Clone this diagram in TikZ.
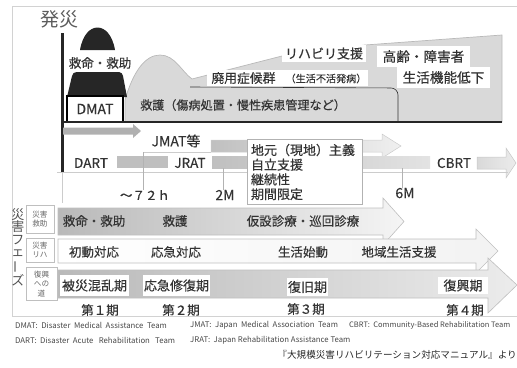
\documentclass[tikz,border=0pt]{standalone}
\usepackage{fontspec}
\setmainfont{Noto Sans CJK JP}[FakeBold=0.35,AutoFakeBold=0.35]
\newfontfamily\notefont{Noto Sans CJK JP}
\usepackage{graphicx}
\usetikzlibrary{positioning}
\definecolor{ink}{HTML}{333333}
\definecolor{hill}{HTML}{D9D9D9}
\tikzset{
  % --- texts -----------------------------------------------------------------
  lab/.style={inner sep=0pt,text=ink,font=\fontsize{12.5}{15}\selectfont\bfseries},
  biglab/.style={lab,font=\fontsize{13.6}{16}\selectfont\bfseries},
  smlab/.style={lab,font=\fontsize{10.1}{11}\selectfont\bfseries},
  whitebox/.style={fill=white,inner sep=0pt},
  tagbox/.style={draw=gray!50,fill=white,inner sep=0pt,align=center,
                 text=ink!75,font=\fontsize{7.6}{9.6}\selectfont\notefont},
  note/.style={inner sep=0pt,anchor=west,text=ink!90,
               font=\fontsize{7.8}{9}\selectfont\notefont},
  % --- lines and bands -------------------------------------------------------
  thin/.style={gray!40,line width=0.5pt},
  tick/.style={gray!60,line width=0.5pt},
  band/.style={draw=gray!50,line width=0.6pt},
}

\begin{document}
\begin{tikzpicture}[x=1pt,y=-1pt]
  \useasboundingbox (0,0) rectangle (517,367);
  \draw[gray!35,line width=0.7pt] (517,6) -- (12,6) -- (12,316) -- (517,316);

  % --- time course above the line -------------------------------------------
  \node[lab,text=ink!80,font=\fontsize{19}{20}\selectfont\notefont] (onset) at (59,19) {発災};

  \filldraw[fill=hill,draw=gray!55,line width=0.7pt]
    (125,122) -- (125,100) .. controls (133,72) and (145,55) .. (160,55)
    .. controls (175,55) and (182,72) .. (192,79) -- (282,56) -- (365,45)
    -- (502,35) -- (502,122) -- cycle;
  \draw[gray!40!black,line width=0.6pt,rounded corners=7pt]
    (190,87) -- (398,88) -- (398,122);

  \fill[black!85] (80,50) .. controls (85,20) and (110,20) .. (115,50) -- cycle;
  \fill[black!85] (67,97) -- (72,76) .. controls (73,73) .. (77,72) -- (119,72)
    .. controls (122,73) .. (123,76) -- (127,97) -- cycle;
  \node[lab] (rescue) at (100,63) {救命・救助};
  \node[draw=black,line width=1.2pt,fill=white,minimum width=56,minimum height=26,
        inner sep=0pt,text=ink,font=\fontsize{14}{16}\selectfont\bfseries] (dmat) at (95,109) {DMAT};

  \node[lab,font=\fontsize{12.1}{14}\selectfont\bfseries] (relief) at (243,105)
    {救護（傷病処置・慢性疾患管理など）};
  \node[whitebox,minimum width=161,minimum height=16] (disusebox) at (287.5,78) {};
  \node[lab,font=\fontsize{12.8}{14}\selectfont\bfseries] (disuse) at (243.5,78) {廃用症候群};
  \node[smlab] (disusesub) at (326,78.5) {（生活不活発病）};
  \node[whitebox,minimum width=84,minimum height=17,lab,font=\fontsize{13}{15}\selectfont\bfseries]
    (rehab) at (324,53.5) {リハビリ支援};
  \node[whitebox,minimum width=93,minimum height=21,biglab] (aged) at (423.5,56.5) {高齢・障害者};
  \node[whitebox,minimum width=93,minimum height=21,biglab] (decline) at (443.5,77.5) {生活機能低下};

  \draw[black!85,line width=3pt] (62,33) -- (62,172);
  \draw[thin] (62,172) -- (62,203);
  \draw[black!85,line width=1.6pt] (62,122) -- (502,122);

  % --- support teams ---------------------------------------------------------
  \fill[gray!62] (63,127.5) -- (133,127.5) -- (133,124) -- (141,131) -- (133,138)
    -- (133,134.5) -- (63,134.5) -- cycle;
  \shadedraw[left color=gray!50,right color=gray!12,draw=gray!40,line width=0.5pt]
    (211,140) -- (382,140) -- (382,134) -- (401,146) -- (382,158) -- (382,152)
    -- (211,152) -- cycle;
  \fill[gray!50] (117,156) rectangle (168,168);
  \shade[left color=gray!50,right color=gray!22] (212,156) rectangle (430,168);
  \shadedraw[left color=gray!30,right color=gray!15,draw=gray!45,line width=0.5pt]
    (477,157) -- (506,157) -- (506,148) -- (516,163) -- (506,178) -- (506,169)
    -- (477,169) -- cycle;
  \draw[thin] (57,172) -- (508,172);
  \draw[thin] (143,152) -- (211,152);

  \node[lab,font=\fontsize{14}{15}\selectfont\bfseries] (jmat) at (176,141) {JMAT等};
  \node[lab,font=\fontsize{13.5}{15}\selectfont\bfseries] (dart) at (91,163) {DART};
  \node[lab,font=\fontsize{13.5}{15}\selectfont\bfseries] (jrat) at (190,163) {JRAT};
  \node[lab,font=\fontsize{13.5}{15}\selectfont\bfseries] (cbrt) at (454,163) {CBRT};

  \node[lab] (h72) at (145,195) {～７２ｈ};
  \node[lab,font=\fontsize{14}{15}\selectfont\bfseries] (m2) at (225,195) {2M};
  \node[lab,font=\fontsize{14}{15}\selectfont\bfseries] (m6) at (405,193) {6M};
  \coordinate (t72) at (143,152);
  \coordinate (t2) at (223,168);
  \coordinate (t6) at (402,168);
  \draw[tick] (t72) -- (t72 |- h72.north);
  \draw[tick] (t2) -- (t2 |- m2.north);
  \draw[tick] (t6) -- (t6 |- m6.north);

  \node[draw=gray!60,line width=0.6pt,fill=white,minimum width=115,minimum height=65,
        text width=107,align=left,inner sep=4pt,text=ink,
        font=\fontsize{13}{14.7}\selectfont\bfseries] (policy) at (304.5,172)
    {地元（現地）主義\\自立支援\\継続性\\期間限定};

  % --- disaster phases -------------------------------------------------------
  \shadedraw[band,left color=gray!55,right color=gray!8]
    (58,208) -- (383,208) -- (383,198) -- (404,221.5) -- (383,245) -- (383,235)
    -- (58,235) -- cycle;
  \shadedraw[band,left color=white,right color=gray!10]
    (58,239) -- (476,239) -- (476,229) -- (498,251) -- (476,273) -- (476,263)
    -- (58,263) -- cycle;
  \shadedraw[band,left color=gray!55,right color=gray!15]
    (58,270) -- (488,270) -- (488,258) -- (517,285) -- (488,313) -- (488,298)
    -- (58,298) -- cycle;

  \node[lab] (p1a) at (94,221) {救命・救助};
  \node[lab] (p1b) at (175,221) {救護};
  \node[lab] (p1c) at (303,221) {仮設診療・巡回診療};
  \node[lab] (p2a) at (94,252) {初動対応};
  \node[lab] (p2b) at (176,252) {応急対応};
  \node[lab] (p2c) at (303,252) {生活始動};
  \node[lab] (p2d) at (399,252) {地域生活支援};
  \node[lab,whitebox,minimum width=69,minimum height=21,font=\fontsize{13}{15}\selectfont\bfseries]
    (p3a) at (94.5,285.5) {被災混乱期};
  \node[lab,whitebox,minimum width=67,minimum height=21,font=\fontsize{13}{15}\selectfont\bfseries]
    (p3b) at (176.5,285.5) {応急修復期};
  \node[lab,whitebox,minimum width=41,minimum height=18,font=\fontsize{13}{15}\selectfont\bfseries]
    (p3c) at (307.5,287) {復旧期};
  \node[lab,whitebox,minimum width=50,minimum height=17,font=\fontsize{13}{15}\selectfont\bfseries]
    (p3d) at (463,285.5) {復興期};
  \node[lab] (st1) at (100,310) {第１期};
  \node[lab] (st2) at (181,310) {第２期};
  \node[lab] (st3) at (306,309) {第３期};
  \node[lab] (st4) at (465,310) {第４期};

  \node[tagbox,minimum width=28,minimum height=28] (tagA) at (40,219) {災害\\救助};
  \node[tagbox,minimum width=28,minimum height=24] (tagB) at (40,250) {災害\\リハ};
  \node[tagbox,minimum width=31,minimum height=33] (tagC) at (41.5,284) {復興\\への\\道};
  \node[lab,align=center,text=ink!85,font=\fontsize{13}{12.6}\selectfont\notefont] (phases) at (18,247)
    {災\\害\\フ\\ェ\\\rotatebox[origin=c]{90}{ー}\\ズ};

  % --- notes -----------------------------------------------------------------
  \node[note] (nDMAT) at (15,325) {DMAT:\ \ Disaster\ \ Medical\ \ Assistance\ \ Team};
  \node[note] (nJMAT) at (190,325) {JMAT:\ \ Japan\ \ Medical\ \ Association\ \ Team};
  \node[note,font=\fontsize{7.5}{9}\selectfont\notefont] (nCBRT) at (349,325)
    {CBRT:\ \ Community-Based Rehabilitation Team};
  \node[note] (nDART) at (15,340) {DART:\ \ Disaster\ \ Acute\ \ \ Rehabilitation\ \ \ Team};
  \node[note] (nJRAT) at (190,340) {JRAT:\ \ Japan Rehabilitation Assistance Team};
  \node[inner sep=0pt,anchor=east,text=black!85,font=\fontsize{9.6}{11}\selectfont\notefont]
    (source) at (517,355) {『大規模災害リハビリテーション対応マニュアル』より};
\end{tikzpicture}
\end{document}
